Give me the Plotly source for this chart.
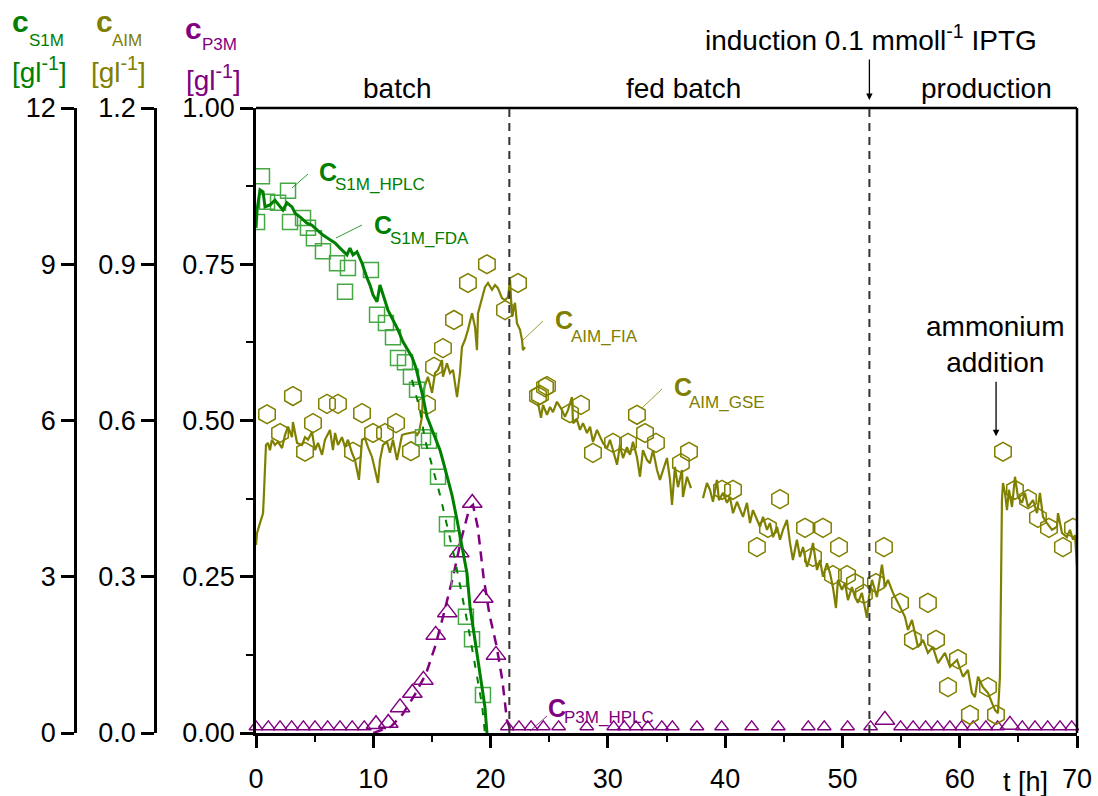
import plotly.graph_objects as go

W, H = 1098, 796

# ---------------- data ----------------
# S1M HPLC (squares), g/l
s1m_hplc_t = [0.09, 0.51, 0.94, 1.88, 2.73, 2.90, 4.01, 4.43, 4.94, 5.71, 6.91, 7.84, 7.59, 9.80,
              10.32, 11.08, 11.68, 12.11, 12.70, 13.21, 13.73, 14.24, 14.75, 15.52, 16.28, 16.71,
              17.31, 17.90, 18.42, 19.35]
s1m_hplc = [9.81, 10.69, 10.20, 10.18, 10.41, 9.81, 9.89, 9.70, 9.50, 9.25, 9.02, 8.93, 8.47, 8.89,
            8.03, 7.87, 7.60, 7.20, 7.12, 6.84, 6.59, 5.68, 5.61, 4.92, 4.01, 3.74,
            2.96, 2.23, 1.80, 0.73]

# S1M FDA (solid green line), g/l
s1m_fda_t = [0.00, 0.09, 0.34, 0.60, 0.77, 1.19, 1.62, 2.05, 2.30, 2.64, 3.07, 3.33, 3.75, 4.35, 4.77,
             5.20, 5.71, 6.31, 6.74, 7.16, 7.76, 8.01, 8.27, 8.61, 9.04, 9.46, 9.72, 9.98, 10.32,
             10.57, 10.83, 11.25, 11.68, 12.11, 12.53, 12.96, 13.30, 13.64, 13.98, 14.24, 14.58,
             15.01, 15.35, 15.69, 16.03, 16.37, 16.71, 17.14, 17.56, 17.99, 18.25, 18.67, 19.10,
             19.52, 19.69]
s1m_fda = [9.70, 10.04, 10.43, 10.39, 10.10, 10.14, 10.23, 10.10, 10.04, 10.18, 10.10, 9.98, 9.91, 9.79, 9.75,
           9.66, 9.56, 9.47, 9.41, 9.31, 9.18, 9.31, 9.18, 9.24, 9.02, 8.74, 8.60, 8.41, 8.28,
           8.60, 8.41, 8.12, 7.93, 7.74, 7.51, 7.35, 7.22, 7.01, 6.72, 6.45, 6.07,
           5.82, 5.63, 5.43, 5.15, 4.86, 4.57, 4.09, 3.57, 3.07, 2.42, 1.79, 1.15,
           0.50, 0.00]

# S1M model (dashed green), g/l
s1m_model_t = [13.30, 13.98, 14.41, 15.01, 15.69, 16.28, 16.97, 17.56, 18.07, 18.67, 19.27, 19.52]
s1m_model = [6.78, 6.20, 5.63, 5.15, 4.57, 3.99, 3.32, 2.65, 2.07, 1.31, 0.54, 0.00]

# AIM FIA (olive noisy line), g/l
aim_fia_t = [0.00, 0.09, 0.34, 0.60, 0.68, 0.77, 0.85, 1.02, 1.19, 1.36, 1.62, 1.88, 2.22, 2.47, 2.73,
             3.07, 3.15, 3.50, 3.92, 4.18, 4.43, 4.77, 5.03, 5.29, 5.63, 5.88, 6.31, 6.56, 6.74,
             6.99, 7.33, 7.59, 7.84, 8.18, 8.44, 8.61, 8.78, 9.04, 9.29, 9.55, 9.89, 10.15, 10.40,
             10.57, 10.83, 11.17, 11.42, 11.68, 12.02, 12.28, 12.45, 12.70, 13.13, 13.56, 13.73,
             13.90, 14.15, 14.24, 14.41, 14.66, 15.01, 15.26, 15.52, 15.86, 15.94, 16.28, 16.54,
             16.80, 17.14, 17.39, 17.56, 17.82, 18.07, 18.42, 18.67, 18.84, 18.93, 19.27, 19.52,
             19.78, 20.12, 20.38, 20.63, 20.97, 21.23, 21.49, 21.66, 21.83, 22.08, 22.25, 22.51,
             22.68, 22.76, 22.93,
             None,
             24.04, 24.30, 24.47, 24.81, 25.07, 25.32, 25.66, 26.09, 26.34, 26.60, 26.94, 27.03,
             27.37, 27.62, 27.88, 28.22, 28.48, 28.73, 29.07, 29.33, 29.58, 29.93, 30.18, 30.44,
             30.78, 31.03, 31.29, 31.63, 31.89, 32.14, 32.48, 32.74, 32.99, 33.34, 33.59, 33.85,
             34.19, 34.44, 34.70, 35.04, 35.30, 35.47, 35.72, 35.98, 36.32, 36.40, 36.75, 37.09,
             None,
             38.11, 38.45, 38.71, 38.96, 39.30, 39.47, 39.82, 40.16, 40.41, 40.67, 41.01, 41.26,
             41.52, 41.86, 42.12, 42.37, 42.71, 42.97, 43.23, 43.57, 43.82, 44.08, 44.42, 44.68,
             44.93, 45.27, 45.53, 45.78, 46.12, 46.38, 46.64, 46.98, 47.23, 47.49, 47.83, 48.09,
             48.34, 48.68, 48.94, 49.19, 49.45, 49.62, 49.96, 50.22, 50.47, 50.81, 51.07, 51.32,
             51.66, 51.92, 52.09, 52.26, 52.52, 52.94, 53.37, 53.63, 53.88, 54.31, 54.91, 55.33,
             55.59, 55.93, 56.18, 56.44, 56.87, 57.29, 57.72, 58.15, 58.74, 59.17, 59.77, 60.28,
             60.70, 61.04, 61.30, 61.56, 61.98, 62.41, 62.75, 63.01, 63.26, 63.43, 63.52, 63.60,
             63.69, 63.86, 64.03, 64.20, 64.46, 64.71, 64.97, 65.31, 65.56, 65.82, 66.25, 66.59,
             66.84, 67.10, 67.44, 67.87, 68.29, 68.38, 68.72, 69.14, 69.40, 69.66, 69.83, 70.00]
aim_fia = [0.361, 0.384, 0.403, 0.422, 0.461, 0.524, 0.553, 0.557, 0.543, 0.563, 0.553, 0.559, 0.547, 0.572, 0.588,
           0.568, 0.597, 0.557, 0.553, 0.568, 0.563, 0.578, 0.543, 0.557, 0.534, 0.563, 0.582, 0.543, 0.576,
           0.553, 0.568, 0.549, 0.563, 0.538, 0.524, 0.505, 0.486, 0.563, 0.566, 0.549, 0.530, 0.505, 0.480,
           0.524, 0.553, 0.559, 0.538, 0.563, 0.524, 0.553, 0.572, 0.574, 0.576, 0.578, 0.572,
           0.578, 0.607, 0.653, 0.668, 0.684, 0.653, 0.691, 0.697, 0.716, 0.684, 0.710, 0.691,
           0.697, 0.645, 0.691, 0.741, 0.755, 0.774, 0.806, 0.780, 0.735, 0.806, 0.837, 0.856,
           0.864, 0.851, 0.860, 0.854, 0.835, 0.831, 0.837, 0.870, 0.799, 0.826, 0.787, 0.774,
           0.755, 0.735, 0.741,
           None,
           0.634, 0.605, 0.630, 0.611, 0.626, 0.616, 0.636, 0.620, 0.607, 0.620, 0.645, 0.595,
           0.601, 0.582, 0.595, 0.576, 0.588, 0.559, 0.582, 0.568, 0.557, 0.547, 0.563, 0.543,
           0.515, 0.553, 0.528, 0.549, 0.534, 0.559, 0.530, 0.492, 0.543, 0.524, 0.518, 0.543,
           0.505, 0.486, 0.505, 0.528, 0.486, 0.438, 0.511, 0.472, 0.505, 0.453, 0.492, 0.470,
           None,
           0.451, 0.480, 0.467, 0.444, 0.486, 0.447, 0.461, 0.442, 0.453, 0.422, 0.444, 0.428,
           0.415, 0.442, 0.403, 0.428, 0.409, 0.396, 0.415, 0.390, 0.403, 0.376, 0.396, 0.371,
           0.390, 0.409, 0.365, 0.332, 0.371, 0.338, 0.357, 0.319, 0.338, 0.365, 0.313, 0.332,
           0.300, 0.326, 0.307, 0.280, 0.240, 0.294, 0.275, 0.288, 0.255, 0.280, 0.261, 0.250,
           0.269, 0.236, 0.221, 0.261, 0.294, 0.261, 0.323, 0.280, 0.294, 0.269, 0.242, 0.223,
           0.198, 0.217, 0.192, 0.165, 0.179, 0.154, 0.165, 0.134, 0.154, 0.127, 0.140, 0.108,
           0.121, 0.077, 0.069, 0.108, 0.088, 0.077, 0.058, 0.044, 0.038, 0.108, 0.280, 0.447,
           0.480, 0.461, 0.428, 0.467, 0.434, 0.492, 0.453, 0.442, 0.461, 0.434, 0.447, 0.422,
           0.461, 0.415, 0.403, 0.390, 0.396, 0.422, 0.384, 0.376, 0.390, 0.371, 0.380, 0.319]

# AIM GSE (hexagons), g/l
aim_gse_t = [0.94, 2.05, 3.15, 4.18, 4.86, 6.05, 6.99, 8.27, 9.04, 9.98, 11.00, 11.94, 13.21, 14.58,
             15.18, 15.94, 16.88, 18.07, 19.69, 21.23, 22.34, 24.21, 24.64, 24.04, 24.81, 26.77,
             27.71, 28.73, 30.44, 31.72, 32.48, 33.17, 34.10, 36.23, 36.92, 39.73, 40.67, 42.71,
             43.65, 44.68, 46.81, 47.49, 48.34, 49.19, 49.71, 50.39, 51.07, 51.83, 52.86, 53.54,
             54.91, 56.01, 57.29, 57.98, 59.00, 59.85, 60.87, 62.41, 63.09, 63.69, 64.71, 65.82,
             66.67, 67.61, 68.80, 69.66]
aim_gse = [0.612, 0.576, 0.647, 0.540, 0.595, 0.632, 0.632, 0.540, 0.614, 0.576, 0.576, 0.595, 0.541, 0.630,
           0.703, 0.739, 0.793, 0.864, 0.900, 0.812, 0.864, 0.649, 0.664, 0.647, 0.666, 0.614,
           0.630, 0.538, 0.557, 0.557, 0.611, 0.576, 0.557, 0.518, 0.540, 0.467, 0.467, 0.357,
           0.394, 0.449, 0.394, 0.338, 0.394, 0.303, 0.357, 0.303, 0.288, 0.267, 0.288, 0.357,
           0.250, 0.179, 0.250, 0.179, 0.088, 0.142, 0.035, 0.088, 0.035, 0.540, 0.467, 0.449,
           0.413, 0.394, 0.357, 0.394]

# P3M HPLC (triangles), g/l
p3m_hplc_t = [0.0, 1.05, 2.05, 3.04, 4.04, 5.03, 6.11, 7.16, 8.20, 9.23, 10.23, 11.28, 12.28, 13.33,
              14.27, 15.32, 16.31, 17.33, 18.44, 19.38, 20.46, 21.43, 22.42, 23.45, 24.50, 25.80,
              28.20, 30.50, 31.40, 32.40, 33.40, 34.60, 35.50, 37.60, 39.70, 42.26, 44.53, 47.09,
              48.45, 50.44, 52.40, 53.62, 54.96, 56.03, 57.09, 58.11, 59.16, 60.16, 61.15, 62.23,
              63.23, 64.28, 65.33, 66.42, 67.50, 68.55, 69.55]
p3m_hplc = [0.01, 0.01, 0.01, 0.01, 0.01, 0.01, 0.01, 0.01, 0.01, 0.01, 0.014, 0.016, 0.041, 0.064,
            0.085, 0.157, 0.193, 0.289, 0.368, 0.216, 0.125, 0.01, 0.01, 0.01, 0.01, 0.01,
            0.01, 0.01, 0.01, 0.01, 0.01, 0.01, 0.01, 0.01, 0.01, 0.01, 0.01, 0.01,
            0.01, 0.01, 0.01, 0.021, 0.01, 0.01, 0.01, 0.01, 0.01, 0.01, 0.01, 0.01,
            0.01, 0.013, 0.01, 0.01, 0.01, 0.01, 0.01]

# P3M model (dashed purple), g/l
p3m_model_t = [10.0, 11.5, 12.5, 13.5, 14.5, 15.3, 16.0, 16.8, 17.5, 18.2, 18.5, 18.9, 19.4, 19.9,
               20.5, 21.0, 21.4, 21.8]
p3m_model = [0.0, 0.01, 0.03, 0.06, 0.095, 0.14, 0.19, 0.25, 0.31, 0.36, 0.365, 0.33, 0.25, 0.19,
             0.14, 0.085, 0.02, 0.0]

phase_bounds = [21.6, 52.3]          # batch | fed batch | production
induction_t = 52.3
ammonium_t = 63.1
ammonium_level = 0.57

GREEN = "#008000"
LGREEN = "#45a845"
OLIVE = "#808000"
PURPLE = "#800080"
FONT = "Liberation Sans, Arial, sans-serif"


def PX(x):
    return x / W


def PY(y):
    return 1 - y / H


fig = go.Figure()

# P3M (primary y)
fig.add_trace(go.Scatter(x=p3m_model_t, y=p3m_model, mode="lines", yaxis="y",
                         line=dict(color=PURPLE, width=2.5, dash="10px,7px"), showlegend=False))
small_t = [t for t, v in zip(p3m_hplc_t, p3m_hplc) if v <= 0.011]
small_v = [v for v in p3m_hplc if v <= 0.011]
big_t = [t for t, v in zip(p3m_hplc_t, p3m_hplc) if v > 0.011]
big_v = [v for v in p3m_hplc if v > 0.011]
fig.add_trace(go.Scatter(x=small_t, y=small_v, mode="markers", yaxis="y", cliponaxis=False,
                         marker=dict(symbol="triangle-up-open", size=12, color=PURPLE,
                                     line=dict(width=1.3, color=PURPLE)), showlegend=False))
fig.add_trace(go.Scatter(x=big_t, y=big_v, mode="markers", yaxis="y", cliponaxis=False,
                         marker=dict(symbol="triangle-up-open", size=17, color=PURPLE,
                                     line=dict(width=1.5, color=PURPLE)), showlegend=False))

# AIM (y2)
fig.add_trace(go.Scatter(x=aim_fia_t, y=aim_fia, mode="lines", yaxis="y2", connectgaps=False,
                         line=dict(color=OLIVE, width=2.2), showlegend=False))
fig.add_trace(go.Scatter(x=aim_gse_t, y=aim_gse, mode="markers", yaxis="y2",
                         marker=dict(symbol="hexagon-open", size=19, color=OLIVE,
                                     line=dict(width=1.5, color=OLIVE)), showlegend=False))

# S1M (y3)
fig.add_trace(go.Scatter(x=s1m_hplc_t, y=s1m_hplc, mode="markers", yaxis="y3",
                         marker=dict(symbol="square-open", size=15, color=LGREEN,
                                     line=dict(width=1.5, color=LGREEN)), showlegend=False))
fig.add_trace(go.Scatter(x=s1m_model_t, y=s1m_model, mode="lines", yaxis="y3",
                         line=dict(color=GREEN, width=2, dash="7px,9px"), showlegend=False))
fig.add_trace(go.Scatter(x=s1m_fda_t, y=s1m_fda, mode="lines", yaxis="y3",
                         line=dict(color=GREEN, width=3), showlegend=False))

tickfont = dict(family=FONT, size=27, color="black")
common_y = dict(showgrid=False, zeroline=False, showline=True, linecolor="black", linewidth=2.5,
                ticks="outside", ticklen=13, tickwidth=2.5, tickcolor="black", tickfont=tickfont,
                domain=[PY(733), PY(108)], fixedrange=True, automargin=False)

fig.update_layout(
    width=W, height=H, margin=dict(l=0, r=0, t=0, b=0, pad=0, autoexpand=False),
    paper_bgcolor="white", plot_bgcolor="white", showlegend=False,
    font=dict(family=FONT, color="black"),
    xaxis=dict(domain=[PX(256), PX(1077)], range=[0, 70], dtick=10, showgrid=False, zeroline=False,
               showline=True, linecolor="black", linewidth=3, ticks="outside", ticklen=12,
               tickwidth=2.5, tickcolor="black", tickfont=tickfont, ticklabelstandoff=8,
               minor=dict(dtick=5, ticks="outside", ticklen=6, tickwidth=2, tickcolor="black"),
               anchor="y", automargin=False, fixedrange=True),
    yaxis=dict(range=[0, 1], dtick=0.25, tickformat=".2f",
               minor=dict(dtick=0.125, ticks="outside", ticklen=7, tickwidth=2, tickcolor="black"),
               **common_y),
    yaxis2=dict(range=[0, 1.2], dtick=0.3, tickformat=".1f", overlaying="y", anchor="free",
                position=PX(155), side="left", **common_y),
    yaxis3=dict(range=[0, 12], dtick=3, tickformat="d", overlaying="y", anchor="free",
                position=PX(75), side="left", **common_y),
)

shapes = []
# top and right frame
shapes.append(dict(type="line", xref="paper", yref="paper", x0=PX(256), x1=PX(1077),
                   y0=PY(108), y1=PY(108), line=dict(color="black", width=2.5)))
shapes.append(dict(type="line", xref="paper", yref="paper", x0=PX(1077), x1=PX(1077),
                   y0=PY(108), y1=PY(733), line=dict(color="black", width=2.5)))
for b in phase_bounds:
    shapes.append(dict(type="line", xref="x", yref="paper", x0=b, x1=b, y0=PY(733), y1=PY(108),
                       line=dict(color="#333333", width=2, dash="8px,6px")))
# leader lines for labels
leaders = [((292, 188), (308, 174), GREEN), ((336, 238), (362, 225), GREEN),
           ((523, 340), (543, 321), OLIVE), ((642, 408), (662, 389), OLIVE),
           ((530, 731), (547, 716), PURPLE)]
for (a, b, c) in leaders:
    shapes.append(dict(type="line", xref="paper", yref="paper", x0=PX(a[0]), y0=PY(a[1]),
                       x1=PX(b[0]), y1=PY(b[1]), line=dict(color=c, width=0.8)))
fig.update_layout(shapes=shapes)

ann = []


def txt(x, y, text, size, color="black", xanchor="center", yanchor="middle"):
    ann.append(dict(x=PX(x), y=PY(y), xref="paper", yref="paper", text=text, showarrow=False,
                    font=dict(family=FONT, size=size, color=color), xanchor=xanchor, yanchor=yanchor))


# axis titles top-left
txt(20, 22, "<b>c</b>", 30, GREEN)
txt(27, 40, "S1M", 17, GREEN, xanchor="left")
txt(39, 70, "[gl<sup>-1</sup>]", 28, GREEN)
txt(104, 22, "<b>c</b>", 30, OLIVE)
txt(110, 40, "AIM", 17, OLIVE, xanchor="left")
txt(118, 70, "[gl<sup>-1</sup>]", 28, OLIVE)
txt(193, 28, "<b>c</b>", 30, PURPLE)
txt(200, 44, "P3M", 17, PURPLE, xanchor="left")
txt(213, 78, "[gl<sup>-1</sup>]", 28, PURPLE)

# phase labels
txt(397, 88, "batch", 28)
txt(683, 88, "fed batch", 28)
txt(986, 88, "production", 28)
txt(871, 38, "induction 0.1 mmoll<sup>-1</sup> IPTG", 28)
txt(995, 344, "ammonium<br>addition", 28)
txt(1025, 782, "t [h]", 27)

# series labels
txt(317, 172, "<b>C</b>", 25, GREEN, xanchor="left")
txt(333, 185, "S1M_HPLC", 17, GREEN, xanchor="left")
txt(372, 225, "<b>C</b>", 25, GREEN, xanchor="left")
txt(388, 238, "S1M_FDA", 17, GREEN, xanchor="left")
txt(553, 320, "<b>C</b>", 25, OLIVE, xanchor="left")
txt(569, 336, "AIM_FIA", 17, OLIVE, xanchor="left")
txt(672, 387, "<b>C</b>", 25, OLIVE, xanchor="left")
txt(687, 402, "AIM_GSE", 17, OLIVE, xanchor="left")
txt(546, 708, "<b>C</b>", 25, PURPLE, xanchor="left")
txt(562, 717, "P3M_HPLC", 17, PURPLE, xanchor="left")

# arrows
ann.append(dict(x=induction_t, y=PY(100), xref="x", yref="paper", text="", showarrow=True,
                ax=0, ay=-42, arrowhead=2, arrowsize=1, arrowwidth=1.3, arrowcolor="black"))
ann.append(dict(x=ammonium_t, y=ammonium_level, xref="x", yref="y2", text="", showarrow=True,
                ax=0, ay=-56, arrowhead=2, arrowsize=1, arrowwidth=1.3, arrowcolor="black"))
fig.update_layout(annotations=ann)

fig.write_html("out.html")
